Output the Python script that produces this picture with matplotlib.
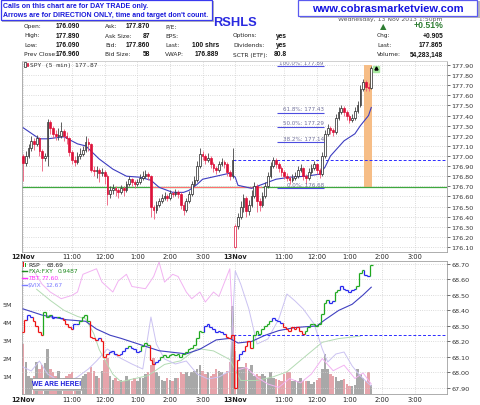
import numpy as np
import matplotlib.pyplot as plt
from matplotlib.patches import Rectangle
from matplotlib.lines import Line2D
from matplotlib.collections import LineCollection
from matplotlib import font_manager as fm

# ---- values: SPY 5 min bars, 12 Nov 9:30 -> 13 Nov 1:45 ----
spy_open = [
    177.00, 176.93, 177.00, 177.08, 177.15, 177.12, 177.18, 177.05, 176.98, 177.00,
    177.34, 177.28, 177.22, 177.20, 177.20, 177.25, 177.20, 177.18, 177.04, 176.96,
    176.94, 177.00, 177.02, 177.06, 177.14, 177.12, 176.86, 176.85, 176.86, 176.83,
    176.84, 176.80, 176.62, 176.66, 176.68, 176.66, 176.64, 176.68, 176.66, 176.72,
    176.77, 176.74, 176.72, 176.74, 176.78, 176.80, 176.82, 176.80, 176.50, 176.47,
    176.52, 176.55, 176.58, 176.60, 176.58, 176.63, 176.62, 176.64, 176.62, 176.52,
    176.47, 176.55, 176.62, 176.72, 176.76, 176.90, 177.02, 177.00, 176.96, 176.98,
    176.92, 176.88, 176.86, 176.92, 176.94, 176.92, 176.84, 176.80,
    176.10, 176.31, 176.40, 176.50, 176.58, 176.46, 176.52, 176.60, 176.70, 176.55,
    176.52, 176.60, 176.70, 176.80, 176.90, 176.96, 176.92, 176.88, 176.84, 176.80,
    176.78, 176.76, 176.78, 176.80, 176.86, 176.88, 176.80, 176.78, 176.84, 176.88,
    176.92, 176.86, 176.82, 177.00, 177.22, 177.28, 177.26, 177.24, 177.38, 177.44,
    177.47, 177.44, 177.40, 177.36, 177.38, 177.45, 177.50, 177.66, 177.73, 177.68,
    177.67]
spy_close = [
    176.93, 177.00, 177.08, 177.15, 177.12, 177.18, 177.05, 176.98, 177.00, 177.34,
    177.28, 177.22, 177.20, 177.20, 177.25, 177.20, 177.18, 177.04, 176.96, 176.94,
    177.00, 177.02, 177.06, 177.14, 177.12, 176.86, 176.85, 176.86, 176.83, 176.84,
    176.80, 176.62, 176.66, 176.68, 176.66, 176.64, 176.68, 176.66, 176.72, 176.77,
    176.74, 176.72, 176.74, 176.78, 176.80, 176.82, 176.80, 176.50, 176.47, 176.52,
    176.55, 176.58, 176.60, 176.58, 176.63, 176.62, 176.64, 176.62, 176.52, 176.47,
    176.55, 176.62, 176.72, 176.76, 176.90, 177.02, 177.00, 176.96, 176.98, 176.92,
    176.88, 176.86, 176.92, 176.94, 176.92, 176.84, 176.80, 176.96,
    176.31, 176.40, 176.50, 176.58, 176.46, 176.52, 176.60, 176.70, 176.55, 176.52,
    176.60, 176.70, 176.80, 176.90, 176.96, 176.92, 176.88, 176.84, 176.80, 176.78,
    176.76, 176.78, 176.80, 176.86, 176.88, 176.80, 176.78, 176.84, 176.88, 176.92,
    176.86, 176.82, 177.00, 177.22, 177.28, 177.26, 177.24, 177.38, 177.44, 177.47,
    177.44, 177.40, 177.36, 177.38, 177.45, 177.50, 177.66, 177.73, 177.68, 177.67,
    177.87]
spy_high = [
    177.02, 177.05, 177.12, 177.20, 177.18, 177.21, 177.19, 177.07, 177.03, 177.37,
    177.36, 177.30, 177.26, 177.28, 177.34, 177.27, 177.24, 177.19, 177.06, 177.00,
    177.04, 177.08, 177.10, 177.20, 177.18, 177.13, 176.90, 176.90, 176.88, 176.88,
    176.86, 176.82, 176.70, 176.72, 176.70, 176.68, 176.71, 176.70, 176.75, 176.80,
    176.78, 176.76, 176.77, 176.82, 176.85, 176.86, 176.84, 176.81, 176.52, 176.55,
    176.58, 176.62, 176.64, 176.62, 176.66, 176.65, 176.67, 176.66, 176.64, 176.54,
    176.58, 176.65, 176.75, 176.80, 176.95, 177.08, 177.05, 177.02, 177.03, 177.00,
    176.94, 176.90, 176.95, 176.98, 176.96, 176.94, 176.86, 177.08,
    176.33, 176.44, 176.55, 176.62, 176.60, 176.56, 176.66, 176.74, 176.72, 176.58,
    176.64, 176.74, 176.84, 176.94, 176.99, 176.98, 176.94, 176.90, 176.86, 176.83,
    176.80, 176.82, 176.84, 176.90, 176.92, 176.89, 176.82, 176.88, 176.92, 176.95,
    176.93, 176.88, 177.04, 177.26, 177.32, 177.30, 177.28, 177.42, 177.48, 177.50,
    177.49, 177.46, 177.42, 177.42, 177.48, 177.54, 177.70, 177.76, 177.75, 177.72,
    177.89]
spy_low = [
    176.75, 176.90, 176.98, 177.05, 177.06, 177.10, 177.00, 176.85, 176.95, 176.90,
    177.22, 177.18, 177.16, 177.16, 177.18, 177.15, 177.12, 177.00, 176.92, 176.90,
    176.92, 176.97, 177.00, 177.04, 177.05, 176.84, 176.80, 176.78, 176.74, 176.80,
    176.72, 176.52, 176.58, 176.62, 176.60, 176.58, 176.62, 176.60, 176.64, 176.70,
    176.70, 176.68, 176.70, 176.72, 176.76, 176.78, 176.76, 176.40, 176.38, 176.44,
    176.50, 176.53, 176.56, 176.55, 176.56, 176.59, 176.60, 176.58, 176.48, 176.42,
    176.45, 176.53, 176.60, 176.70, 176.74, 176.88, 176.96, 176.92, 176.94, 176.88,
    176.84, 176.82, 176.84, 176.90, 176.88, 176.80, 176.76, 176.78,
    176.09, 176.28, 176.38, 176.45, 176.40, 176.42, 176.50, 176.58, 176.45, 176.46,
    176.50, 176.58, 176.68, 176.78, 176.88, 176.88, 176.84, 176.80, 176.77, 176.75,
    176.72, 176.74, 176.76, 176.78, 176.84, 176.76, 176.72, 176.76, 176.82, 176.86,
    176.82, 176.78, 176.80, 176.98, 177.20, 177.22, 177.20, 177.22, 177.36, 177.42,
    177.40, 177.36, 177.33, 177.34, 177.36, 177.43, 177.48, 177.64, 177.64, 177.64,
    177.66]
# volume in millions of shares
spy_volume = [
    2.8, 1.8, 1.0, 0.9, 1.0, 1.8, 1.4, 1.6, 1.7, 2.5,
    1.4, 1.2, 1.0, 1.3, 0.8, 0.9, 1.0, 1.1, 1.2, 0.8,
    0.75, 0.8, 1.0, 1.1, 1.2, 1.5, 1.3, 1.0, 0.9, 1.3,
    1.9, 2.0, 1.0, 0.8, 0.9, 0.75, 0.8, 0.75, 1.0, 0.8,
    0.75, 0.9, 0.7, 0.9, 0.9, 1.1, 1.2, 1.6, 2.0, 1.2,
    1.0, 0.8, 0.75, 0.9, 0.8, 0.75, 0.9, 0.9, 1.2, 1.1,
    1.2, 1.0, 1.2, 1.3, 1.4, 1.6, 1.3, 1.1, 1.2, 1.0,
    1.1, 1.4, 1.3, 1.2, 1.1, 1.3, 1.8, 4.9,
    2.4, 1.5, 1.5, 1.5, 1.7, 1.4, 1.6, 1.0, 1.1, 1.0,
    1.1, 1.0, 0.9, 1.2, 0.9, 0.85, 0.8, 0.75, 1.1, 1.2,
    1.2, 0.75, 0.8, 0.75, 0.9, 0.75, 0.75, 0.7, 0.55, 0.65,
    0.8, 0.9, 1.4, 2.2, 1.4, 1.1, 1.0, 0.95, 0.75, 0.8,
    0.85, 0.56, 0.46, 0.46, 0.5, 1.4, 1.1, 0.9, 0.75, 1.2,
    0.5]
spy_prev_close = 176.96

ma_bars = [0, 6, 9, 15, 20, 23, 28, 33, 38, 43, 47, 50, 55, 59, 61, 64, 66, 71, 76, 78,
           79, 84, 89, 93, 98, 104, 109, 111, 113, 116, 118, 122, 124, 127, 128]
ma_vals = [177.28, 177.17, 177.17, 177.19, 177.12, 177.10, 176.97, 176.87, 176.80, 176.79,
           176.76, 176.69, 176.64, 176.64, 176.66, 176.72, 176.77, 176.80, 176.83, 176.79,
           176.71, 176.68, 176.73, 176.77, 176.79, 176.80, 176.82, 176.89, 177.00, 177.09,
           177.15, 177.22, 177.30, 177.40, 177.48]

fib_names = ['100.0%', '61.8%', '50.0%', '38.2%', '0.0%']
fib_levels = [177.89, 177.43, 177.29, 177.14, 176.68]
support_level = 176.69

rsp_close = [
    68.26, 68.34, 68.37, 68.36, 68.33, 68.30, 68.26, 68.24, 68.39, 68.36,
    68.37, 68.35, 68.36, 68.36, 68.35, 68.34, 68.31, 68.29, 68.28, 68.31,
    68.31, 68.33, 68.36, 68.37, 68.33, 68.23, 68.22, 68.21, 68.22, 68.20,
    68.10, 68.12, 68.13, 68.14, 68.12, 68.11, 68.12, 68.14, 68.16, 68.17,
    68.16, 68.15, 68.13, 68.14, 68.17, 68.19, 68.18, 68.08, 68.055, 68.07,
    68.08, 68.10, 68.11, 68.10, 68.11, 68.12, 68.11, 68.12, 68.10, 68.12,
    68.13, 68.15, 68.16, 68.18, 68.22, 68.27, 68.26, 68.30, 68.31, 68.29,
    68.28, 68.26, 68.27, 68.26, 68.25, 68.23, 68.22, 68.24,
    67.90, 68.08, 68.12, 68.14, 68.17, 68.20, 68.16, 68.24, 68.27, 68.25,
    68.28, 68.30, 68.31, 68.33, 68.35, 68.34, 68.33, 68.32, 68.29, 68.28,
    68.27, 68.29, 68.28, 68.29, 68.27, 68.25, 68.27, 68.29, 68.31, 68.31,
    68.30, 68.31, 68.38, 68.45, 68.47, 68.45, 68.46, 68.52, 68.53, 68.56,
    68.54, 68.53, 68.52, 68.53, 68.54, 68.56, 68.64, 68.66, 68.63, 68.62,
    68.69]
# impulse colour of each RSP bar: g = green, r = red, b = blue
rsp_impulse = ("rrbbrrrrgg" "gbbgbrrrrb" "bggggrrrbr" "rrbbbrbbbg" "bbbbgggrrb"
               "bggggggggg" "gggggggbbb" "bbbbbrrr"
               "rrbbrrrggg" "ggggbbbbrr" "rrrrrrgggg" "gggggbbggb" "bbbbbgggbb" "g")
rsp_prev_close = 68.24
rsp_ma_bars = [0, 7, 16, 23, 27, 32, 36, 43, 50, 55, 60, 65, 71, 76, 79, 84, 89, 94, 100,
               108, 111, 116, 121, 125, 128]
rsp_ma_vals = [68.41, 68.37, 68.34, 68.33, 68.28, 68.24, 68.22, 68.18, 68.14, 68.13, 68.12,
               68.15, 68.21, 68.22, 68.19, 68.20, 68.24, 68.27, 68.29, 68.30, 68.34, 68.40,
               68.44, 68.50, 68.55]

fxa_bars = [5, 10, 15, 20, 23, 26, 28, 31, 33, 36, 40, 46, 52, 58, 64, 70, 76, 80, 86, 92,
            97, 104, 110, 116, 124]
fxa_vals = [0.9525, 0.9516, 0.9508, 0.9503, 0.9501, 0.9489, 0.9476, 0.9464, 0.9456, 0.9450,
            0.9452, 0.9455, 0.9464, 0.9467, 0.9477, 0.9475, 0.9468, 0.9451, 0.9451, 0.9454,
            0.9458, 0.9471, 0.9482, 0.9485, 0.9487]
tbt_bars = [4, 7, 10, 14, 18, 20, 22, 27, 29, 33, 35, 38, 40, 45, 48, 50, 52, 55, 57, 60,
            62, 65, 67, 70, 72, 76, 78, 82, 86, 90, 94, 98, 102, 106, 110, 114, 118, 122,
            125, 128]
tbt_vals = [78.62, 78.50, 78.43, 78.37, 78.40, 78.43, 78.59, 78.64, 78.52, 78.43,
            78.53, 78.59, 78.48, 78.46, 78.57, 78.70, 78.52, 78.59, 78.57, 78.43,
            78.37, 78.43, 78.34, 78.43, 78.39, 78.64, 77.72, 77.75, 77.66, 77.60,
            77.57, 77.65, 77.61, 77.69, 77.83, 77.72, 77.77, 77.65, 77.70, 77.60]
vix_bars = [0, 3, 6, 9, 12, 16, 20, 24, 27, 31, 35, 40, 44, 47, 49, 52, 56, 60, 64, 68,
            72, 76, 78, 80, 83, 86, 90, 94, 97, 100, 103, 107, 110, 112, 115, 118, 121,
            124, 128]
vix_vals = [12.86, 12.82, 12.92, 12.79, 12.74, 12.70, 12.76, 12.84, 12.92, 13.04,
            12.96, 12.89, 12.84, 13.36, 13.09, 12.94, 12.89, 12.92, 12.79, 12.74,
            12.76, 12.82, 13.82, 13.69, 13.44, 13.09, 13.14, 13.34, 13.59, 13.52,
            13.44, 13.29, 13.04, 12.91, 12.99, 13.01, 12.87, 12.77, 12.67]

hour_bars = [0, 18, 30, 42, 54, 66, 78, 96, 108, 120, 132, 144]
hour_labels = ['12Nov', '11:00', '12:00', '1:00', '2:00', '3:00',
               '13Nov', '11:00', '12:00', '1:00', '2:00', '3:00']

header_rows = [
    [('Open:', '176.090'), ('Ask:', '177.870'), ('P/E:', ''), ('', ''), None],
    [('High:', '177.890'), ('Ask Size:', '87'), ('EPS:', ''), ('Options:', 'yes'), ('Chg:', '+0.905')],
    [('Low:', '176.090'), ('Bid:', '177.860'), ('Last:', '100 shrs'), ('Dividends:', 'yes'), ('Last:', '177.865')],
    [('Prev Close:', '176.960'), ('Bid Size:', '58'), ('VWAP:', '176.889'), ('SCTR (ETF):', '80.8'),
     ('Volume:', '54,283,148')],
]


def has_font(name):
    try:
        fm.findfont(fm.FontProperties(family=name), fallback_to_default=False)
        return True
    except ValueError:
        return False


NARROW = 'Liberation Sans Narrow' if has_font('Liberation Sans Narrow') else 'Liberation Sans'
plt.rcParams['font.family'] = 'DejaVu Sans'

W, H = 480, 406
fig = plt.figure(figsize=(W / 100, H / 100), dpi=100)
fig.patch.set_facecolor('white')


# helpers in pixel coords (y down) for the decorations around the panels
def ftext(x, y, s, **kw):
    return fig.text(x / W, 1 - y / H, s, **kw)


def frect(x0, y0, x1, y1, **kw):
    fig.add_artist(Rectangle((x0 / W, 1 - y1 / H), (x1 - x0) / W, (y1 - y0) / H,
                             transform=fig.transFigure, **kw))


def fline(x0, x1, y, **kw):
    fig.add_artist(Line2D([x0 / W, x1 / W], [1 - y / H, 1 - y / H],
                          transform=fig.transFigure, **kw))


XLIM = (-0.4, 155.85)
GRID = dict(color='#cfcfcf', ls=':', lw=0.6)
SPINE = '#a0a0a0'

# ---------------- price panel ----------------
ax = fig.add_axes([22 / W, 1 - 252.7 / H, 425 / W, 190.4 / H])
o = np.array(spy_open)
c = np.array(spy_close)
hi = np.array(spy_high)
lo = np.array(spy_low)
n = len(c)
x = np.arange(n)
prev = np.r_[o[0], c[:-1]]
down = c < prev
edge = np.where(down, '#dd1139', '#222222')
wick = np.where(down, '#ec5a78', '#444444')
face = np.where(c >= o, 'white', edge)

ax.fill_between([125.4, 128.3], support_level, 177.90, color='#f6bd86', lw=0, zorder=0.6)
ax.axhline(support_level, color='#3ea83e', lw=0.9, zorder=1)
ax.hlines(support_level + 0.005, 47, 88, colors='#ff7070', lw=0.8, zorder=1.1)
ax.hlines(spy_prev_close, 77, XLIM[1], colors='#2b2bff', lw=0.7,
          linestyles=(0, (3, 2)), zorder=1.2)
ax.plot(ma_bars, ma_vals, color='#3c3cc0', lw=0.8, zorder=2)
ax.vlines(x, lo, hi, colors=wick, lw=0.6, zorder=3)
ax.bar(x, np.maximum(np.abs(c - o), 0.006), bottom=np.minimum(o, c), width=0.62,
       color=face, edgecolor=edge, linewidth=0.5, zorder=4)

ax.hlines(fib_levels, 93.4, 110.7, colors='#4d4de0', lw=0.8, zorder=5)
for name, lvl in zip(fib_names, fib_levels):
    ax.text(110.5, lvl + 0.012, f'{name}: {lvl:.2f}', ha='right', va='bottom',
            fontsize=4.1, color='#70709a', zorder=6)
ax.plot(129.6, 177.86, marker='s', ms=4, color='#a8eaa0', zorder=5)
ax.plot(129.6, 177.87, marker='^', ms=2.2, color='black', zorder=6)

ax.set_xlim(*XLIM)
ax.set_ylim(176.053, 177.937)
ax.yaxis.tick_right()
ax.set_yticks(np.round(np.arange(176.1, 177.95, 0.1), 2))
ax.set_yticklabels([f'{v:.2f}' for v in ax.get_yticks()])
ax.tick_params(axis='y', labelsize=4.6, length=2, width=0.5, pad=1.2, colors='#333333')
ax.set_xticks(hour_bars)
ax.set_xticklabels(hour_labels)
ax.tick_params(axis='x', labelsize=4.8, length=0, pad=1.2, colors='#222222')
for k in (0, 6):
    ax.get_xticklabels()[k].set_fontweight('bold')
ax.grid(True, **GRID)
ax.set_axisbelow(True)
for s in ax.spines.values():
    s.set_color(SPINE)
    s.set_linewidth(0.6)

# ---------------- lower panel: volume + RSP + ratio lines ----------------
vax = fig.add_axes([22 / W, 1 - 395 / H, 425 / W, 133 / H])
vol_col = np.where(down, '#e6a4ab', '#a8a8a8')
vax.bar(x, spy_volume, width=0.92, color=vol_col, lw=0, zorder=1)
vax.set_xlim(*XLIM)
vax.set_ylim(0, 133 / 18.0)
vax.set_yticks([1, 2, 3, 4, 5])
vax.set_yticklabels(['1M', '2M', '3M', '4M', '5M'])
vax.tick_params(axis='y', labelsize=4.6, length=0, pad=7, colors='#333333')
vax.set_xticks(hour_bars)
vax.set_xticklabels(hour_labels)
vax.tick_params(axis='x', labelsize=4.8, length=0, pad=1.2, colors='#222222')
for k in (0, 6):
    vax.get_xticklabels()[k].set_fontweight('bold')
vax.grid(True, axis='x', **GRID)
vax.set_axisbelow(True)
for s in vax.spines.values():
    s.set_color(SPINE)
    s.set_linewidth(0.6)

for bars, vals, col, lim in [(fxa_bars, fxa_vals, '#b3dbb3', (0.9440, 0.9548)),
                             (tbt_bars, tbt_vals, '#f2b2f2', (77.51, 78.71)),
                             (vix_bars, vix_vals, '#cbc2f2', (12.59, 13.92))]:
    tw = vax.twinx()
    tw.plot(bars, vals, color=col, lw=0.7)
    tw.set_ylim(*lim)
    tw.yaxis.set_visible(False)
    for s in tw.spines.values():
        s.set_visible(False)

rax = vax.twinx()
imp_col = {'g': '#1fa81f', 'r': '#ee1111', 'b': '#2424ee'}
segs, cols = [], []
for i, v in enumerate(rsp_close):
    col = imp_col[rsp_impulse[i]]
    if i > 0:
        segs.append([(i - 0.5, rsp_close[i - 1]), (i - 0.5, v)])
        cols.append(col)
    segs.append([(i - 0.5, v), (i + 0.5, v)])
    cols.append(col)
rax.add_collection(LineCollection(segs, colors=cols, linewidths=0.9, zorder=4))
rax.plot(rsp_ma_bars, rsp_ma_vals, color='#4040c0', lw=0.8, zorder=3)
rax.hlines(rsp_prev_close, 77, XLIM[1], colors='#2b2bff', lw=0.7,
           linestyles=(0, (3, 2)), zorder=3)
rax.set_xlim(*XLIM)
rax.set_ylim(67.861, 68.719)
rax.set_yticks(np.round(np.arange(67.9, 68.75, 0.1), 2))
rax.set_yticklabels([f'{v:.2f}' for v in rax.get_yticks()])
rax.tick_params(axis='y', labelsize=4.6, length=2, width=0.5, pad=1.2, colors='#333333')
rax.grid(True, axis='y', **GRID)
for s in rax.spines.values():
    s.set_visible(False)

# ---------------- legends inside panels ----------------
frect(24, 62.5, 25.6, 68, fc='white', ec='#222222', lw=0.5)
frect(26.6, 63.5, 28.2, 67, fc='#dd1139', ec='#dd1139', lw=0.5)
ftext(30, 65.5, 'SPY (5 min) 177.87', fontsize=4.5, family='DejaVu Sans Mono',
      color='#333333', va='center')

frect(22.5, 263, 23.7, 268, fc='#ee1111', lw=0)
frect(24.5, 264, 25.7, 268, fc='#1fa81f', lw=0)
ftext(28, 265.5, 'RSP', fontsize=4.3, color='#222222', va='center')
ftext(47, 265.5, '68.69', fontsize=4.3, color='#222222', va='center')
legend_rows = [('FXA:FXY', '0.9487', '#1e8a1e', 58, 272.0),
               ('TBT', '77.60', '#ff33ff', 42, 279.0),
               ('$VIX', '12.67', '#7b7bff', 45, 285.5)]
for name, val, col, vx, yy in legend_rows:
    fline(22, 27, yy, color=col, lw=1.0)
    ftext(28, yy, name, fontsize=4.3, color=col, va='center')
    ftext(vx, yy, val, fontsize=4.3, color=col, va='center')

frect(33.5, 380.5, 82, 391.5, fc='#b8b8b8', lw=0, zorder=2)
frect(32, 378.7, 80.5, 389.7, fc='white', ec='#999999', lw=0.6, zorder=2.1)
ftext(56.2, 384.4, 'WE ARE HERE!', fontsize=4.8, family=NARROW, weight='bold',
      color='#1a1adb', ha='center', va='center', zorder=3)

# ---------------- header ----------------
ftext(443, 19.5, 'Wednesday, 13 Nov 2013 1:50pm', fontsize=4.4, color='#555555',
      ha='right', va='center', zorder=0.5)
frect(2, 2, 214, 22.5, fc='#b8b8b8', lw=0, zorder=2)
frect(0.5, 0.5, 212, 20.5, fc='white', ec='#3a3af0', lw=0.9, zorder=2.1)
ftext(3, 6.3, 'Calls on this chart are for DAY TRADE only.', fontsize=5.0,
      family=NARROW, weight='bold', color='#1a1adb', va='center', zorder=3)
ftext(3, 15.3, "Arrows are for DIRECTION ONLY, time and target don't count.",
      fontsize=5.0, family=NARROW, weight='bold', color='#1a1adb', va='center', zorder=3)

frect(300, 2, 479.5, 19, fc='#b8b8b8', lw=0, zorder=2)
frect(298, 0.5, 477, 17, fc='white', ec='#5a5af0', lw=0.9, zorder=2.1)
ftext(387.5, 8.8, 'www.cobrasmarketview.com', fontsize=8, family='Liberation Sans',
      weight='bold', color='#1414e0', ha='center', va='center', zorder=3)

ftext(213, 22.5, 'RSHLS', fontsize=9.3, family=NARROW, weight='bold',
      color='#2a2ae0', va='center')

col_label_x = [24, 105, 165, 233, 377]
col_value_x = [80, 150, 219, 287, 443]
row_y = [26.7, 36.0, 45.7, 55.0]
for r, row in enumerate(header_rows):
    for k, cell in enumerate(row):
        if cell is None:
            continue
        label, value = cell
        if label:
            ftext(col_label_x[k], row_y[r], label, fontsize=4.2, color='#222222', va='center')
        if value:
            ftext(col_value_x[k], row_y[r], value, fontsize=4.8, family=NARROW,
                  weight='bold', color='#111111', ha='right', va='center')
ftext(383.5, 26.5, '▲', fontsize=6, color='#2e7d32', ha='center', va='center')
ftext(443, 25.5, '+0.51%', fontsize=6.2, family=NARROW, weight='bold',
      color='#2e7d32', ha='right', va='center')
fline(22, 447, 61.8, color='#d8d8d8', lw=0.6)

fig.savefig('out.png', dpi=100, facecolor='white')
